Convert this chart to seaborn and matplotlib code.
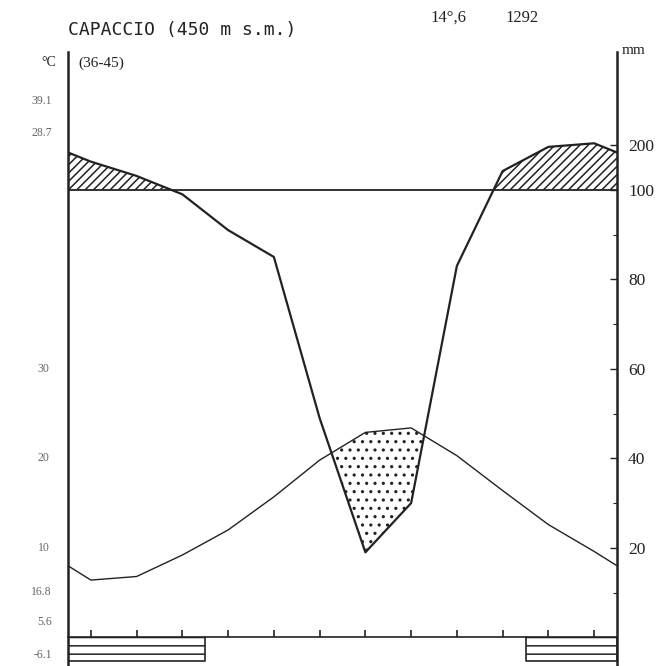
import numpy as np
import pandas as pd
import matplotlib
matplotlib.use("Agg")
import matplotlib.pyplot as plt
import seaborn as sns

# ---------------- data ----------------
months = list(range(12))
temp_c = [6.4, 6.8, 9.2, 12.0, 15.7, 19.8, 22.9, 23.4, 20.3, 16.4, 12.6, 9.6]
precip_mm = [163, 131, 99, 91, 85, 49, 19, 30, 83, 142, 196, 204]
frost = [1, 1, 1, 0, 0, 0, 0, 0, 0, 0, 1, 1]
precip_ticks = [20, 40, 60, 80, 100, 200]
precip_minor = [10, 30, 50, 70, 90]
temp_ticks = [10, 20, 30]
station = "CAPACCIO (450 m s.m.)"
period = "(36-45)"
mean_temp = "14°,6"
annual_precip = "1292"
extremes_top = ["39.1", "28.7"]
extremes_bottom = ["16.8", "5.6", "-6.1"]

# ---------------- helpers ----------------
def pscale(p):
    p = np.asarray(p, dtype=float)
    return np.where(p <= 100, p, 100 + (p - 100) / 10.0)

W, H = 665, 666
sns.set_theme(style="white")
plt.rcParams["font.family"] = ["Liberation Serif", "DejaVu Sans"]
plt.rcParams["hatch.linewidth"] = 1.1

fig = plt.figure(figsize=(W / 100, H / 100), dpi=100)
ax = fig.add_axes([68 / W, 0, (617 - 68) / W, (H - 52) / H])
ax.set_xlim(-0.5, 11.5)
ax.set_ylim(-6.4, 130.8)

ink = "#222222"

# wrap-around ends (mean of Dec and Jan)
x_ext = np.array([-0.5] + months + [11.5])
t_plot = 2 * np.array(temp_c)
p_plot = pscale(precip_mm)
t_end = (t_plot[0] + t_plot[-1]) / 2
p_end = (p_plot[0] + p_plot[-1]) / 2
t_ext = np.concatenate([[t_end], t_plot, [t_end]])
p_ext = np.concatenate([[p_end], p_plot, [p_end]])

df = pd.DataFrame({"x": x_ext, "temp": t_ext, "prec": p_ext})

# hatched area above 100 mm
ax.fill_between(df["x"], 100, df["prec"], where=df["prec"] > 100, interpolate=True,
                facecolor="none", edgecolor=ink, hatch="////", linewidth=0)
ax.plot([-0.5, 11.5], [100, 100], color=ink, lw=1.3)

# dry period dotted
ax.fill_between(df["x"], df["prec"], df["temp"], where=df["temp"] > df["prec"],
                interpolate=True, facecolor="none", edgecolor=ink, hatch="..", linewidth=0)

sns.lineplot(data=df, x="x", y="temp", ax=ax, color=ink, lw=1.0, sort=False)
sns.lineplot(data=df, x="x", y="prec", ax=ax, color=ink, lw=1.6, sort=False)

# frost months boxes
fr = np.array(frost)
i = 0
while i < 12:
    if fr[i]:
        j = i
        while j + 1 < 12 and fr[j + 1]:
            j += 1
        xs = [i - 0.5, j + 0.5]
        ax.fill_between(xs, -5.2, 0, facecolor="none", edgecolor=ink, hatch="--", linewidth=0)
        ax.plot([xs[0], xs[0], xs[1], xs[1]], [0, -5.2, -5.2, 0], color=ink, lw=1.2)
        i = j + 1
    else:
        i += 1

# axes styling
ax.spines["top"].set_visible(False)
ax.spines["bottom"].set_position(("data", 0))
for s in ["left", "right", "bottom"]:
    ax.spines[s].set_color(ink)
ax.spines["left"].set_linewidth(1.8)
ax.spines["right"].set_linewidth(1.8)
ax.spines["bottom"].set_linewidth(1.2)

ax.set_xticks(months)
ax.set_xticklabels([])
ax.tick_params(axis="x", direction="in", length=5, width=1.2, color=ink, bottom=True)

ax.yaxis.tick_right()
ax.set_yticks(pscale(precip_ticks))
ax.set_yticklabels([str(v) for v in precip_ticks])
ax.set_yticks(pscale(precip_minor), minor=True)
ax.tick_params(axis="y", which="major", direction="in", length=5, width=1.0, color=ink,
               labelsize=12.5, pad=8, labelcolor=ink, right=True, left=False)
ax.tick_params(axis="y", which="minor", direction="in", length=3, width=0.8, color=ink,
               right=True, left=False)
ax.set_xlabel("")
ax.set_ylabel("")

# left temperature labels
for tv in temp_ticks:
    ax.text(-0.9, 2 * tv, str(tv), ha="right", va="center", fontsize=8.5, color="#666666")

def ftext(px, py, s, **kw):
    fig.text(px / W, 1 - py / H, s, **kw)

ftext(68, 30, station, family=["DejaVu Sans Mono"], fontsize=13, color=ink, va="center")
ftext(430, 18, mean_temp, fontsize=12, color=ink, va="center")
ftext(505, 18, annual_precip, fontsize=12, color=ink, va="center")
ftext(56, 63, "°C", fontsize=10, color=ink, va="center", ha="right")
ftext(78, 63, period, fontsize=11, color=ink, va="center")
ftext(622, 50, "mm", fontsize=11, color=ink, va="center")

for s, py in zip(extremes_top, [101, 133]):
    ftext(52, py, s, fontsize=8.5, color="#666666", va="center", ha="right")
for s, py in zip(extremes_bottom, [592, 622, 655]):
    ftext(52, py, s, fontsize=8.5, color="#666666", va="center", ha="right")

fig.savefig("out.png", dpi=100, facecolor="white")
